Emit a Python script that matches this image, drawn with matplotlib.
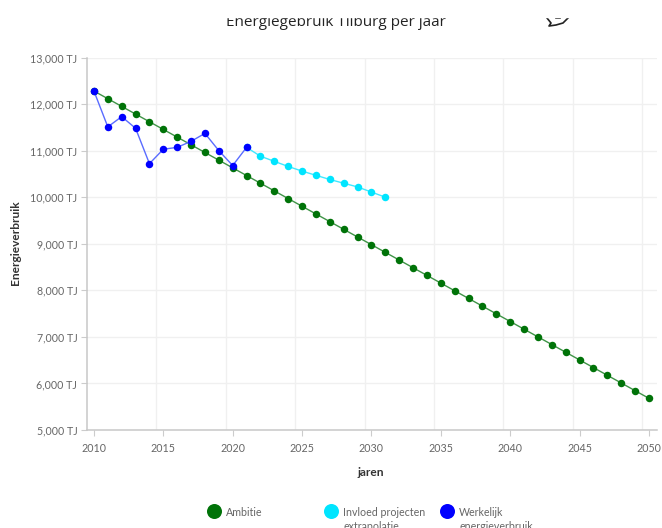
import matplotlib
matplotlib.use('Agg')
import matplotlib.pyplot as plt
from matplotlib.lines import Line2D
from matplotlib.patches import Rectangle

W, H = 662, 528

years = list(range(2010, 2051))
ambitie = [12280, 12115, 11950, 11785, 11620, 11455, 11290, 11125, 10960, 10795, 10630,
           10465, 10300, 10135, 9970, 9805, 9640, 9475, 9310, 9145, 8980,
           8815, 8650, 8485, 8320, 8155, 7990, 7825, 7660, 7495, 7330,
           7165, 7000, 6835, 6670, 6505, 6340, 6175, 6010, 5845, 5680]
years_proj = list(range(2021, 2032))
projecten = [11070, 10880, 10770, 10660, 10560, 10470, 10380, 10300, 10220, 10110, 10000]
years_real = list(range(2010, 2022))
werkelijk = [12280, 11510, 11730, 11480, 10720, 11030, 11070, 11200, 11370, 11000, 10680, 11070]

y_ticks = [5000, 6000, 7000, 8000, 9000, 10000, 11000, 12000, 13000]
x_ticks = [2010, 2015, 2020, 2025, 2030, 2035, 2040, 2045, 2050]
x_grid = [2014.5, 2019.5, 2024.5, 2029.5, 2034.5, 2039.5, 2044.5, 2049.5]

names = ['Ambitie', 'Invloed projecten\nextrapolatie', 'Werkelijk\nenergieverbruik']
colors = ['#007308', '#00e5ff', '#0000ff']

plt.rcParams['font.family'] = ['Lato', 'DejaVu Sans']


def fx(px):
    return px / W


def fy(px):
    return 1 - px / H


fig = plt.figure(figsize=(W / 100, H / 100), dpi=100)
ax = fig.add_axes([fx(87), fy(430), fx(657 - 87), (430 - 57.5) / H])

ax.plot(years, ambitie, color='#3f9447', lw=1, marker='o', ms=5.4, mew=0,
        mfc=colors[0], zorder=3)
ax.plot(years_proj, projecten, color='#40e8ff', lw=1, marker='o', ms=5.4, mew=0,
        mfc=colors[1], zorder=4)
ax.plot(years_real, werkelijk, color='#5a6cff', lw=1, marker='o', ms=5.4, mew=0,
        mfc=colors[2], zorder=5)

ax.set_xlim(2009.5, 2050.58)
ax.set_ylim(5000, 13000)
ax.set_xticks(x_ticks)
ax.set_xticks(x_grid, minor=True)
ax.set_yticks(y_ticks)
ax.set_yticklabels([f'{v:,} TJ' for v in y_ticks], va='center_baseline')
ax.grid(which='major', axis='y', color='#f0f0f0', lw=1)
ax.grid(which='minor', axis='x', color='#f0f0f0', lw=1)
ax.set_axisbelow(True)
ax.tick_params(which='minor', length=0)
ax.tick_params(which='major', length=4, width=0.8, color='#cccccc', labelcolor='#666666',
               labelsize=7.7, pad=3)
ax.tick_params(axis='x', pad=5)
for side in ['top', 'right']:
    ax.spines[side].set_visible(False)
for side in ['left', 'bottom']:
    ax.spines[side].set_color('#c8c8c8')
    ax.spines[side].set_linewidth(1.1)

fig.text(fx(371), fy(473), 'jaren', ha='center', va='center', fontsize=8.6,
         fontweight='bold', color='#333333')
fig.text(fx(16), fy(243), 'Energieverbruik', ha='center', va='center', rotation=90,
         fontsize=8.6, fontweight='bold', color='#333333')

# legend is laid out by hand, second lines run off the bottom of the picture
for name, color, x in zip(names, colors, [214, 331, 447]):
    fig.add_artist(Line2D([fx(x)], [fy(511)], marker='o', ms=10.8, mew=0, color=color, ls=''))
    fig.text(fx(x + 12), fy(507), name, ha='left', va='top', fontsize=7.7,
             color='#666666', linespacing=1.35)

fig.text(fx(335.5), fy(26), 'Energiegebruik Tilburg per jaar', ha='center', va='baseline',
         fontsize=11, color='#222222', family=['Open Sans', 'DejaVu Sans'])
# top of the title and the icon are cut off in the screenshot
fig.add_artist(Line2D([fx(547), fx(551), fx(549), fx(556), fx(563), fx(568)],
                      [fy(18), fy(23), fy(26), fy(25), fy(23), fy(18)], color='#222222', lw=1.2))
fig.add_artist(Line2D([fx(556), fx(560)], [fy(18), fy(18)], color='#222222', lw=1.2))
fig.add_artist(Rectangle((0, fy(17)), 1, 17 / H, color='white', zorder=10))

fig.savefig('out.png', dpi=100)
